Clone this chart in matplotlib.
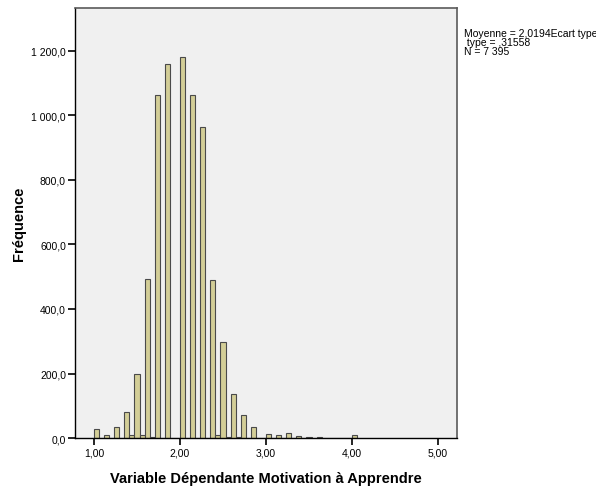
import matplotlib
matplotlib.use("Agg")
import matplotlib.pyplot as plt
from matplotlib.ticker import FixedLocator

# Histogram data: counts per bin, bins start at 1.00 with width 1/17
bin_start = 1.0
bin_width = 1.0 / 17.0
counts = [29, 0, 10, 0, 33, 0, 81, 8, 197, 8, 493, 3, 1063, 0, 1160, 0, 0, 1180,
          0, 1063, 0, 965, 0, 490, 10, 298, 3, 135, 3, 72, 0, 35, 0, 0, 12, 0,
          8, 0, 16, 0, 5, 0, 3, 0, 3, 0, 0, 0, 0, 0, 0, 8]

x_ticks = [1, 2, 3, 4, 5]
x_tick_labels = ["1,00", "2,00", "3,00", "4,00", "5,00"]
y_ticks = [0, 200, 400, 600, 800, 1000, 1200]
y_tick_labels = ["0,0", "200,0", "400,0", "600,0", "800,0", "1 000,0", "1 200,0"]

stats_text = "Moyenne = 2,0194Ecart type\n type = ,31558\nN = 7 395"
x_label = "Variable Dépendante Motivation à Apprendre"
y_label = "Fréquence"

plt.rcParams['font.family'] = ['Liberation Sans', 'DejaVu Sans']

fig = plt.figure(figsize=(5.96, 4.89), dpi=100)
fig.patch.set_facecolor("white")
ax = fig.add_axes([0.1258, 0.1022, 0.641, 0.8794])
ax.set_facecolor("#f0f0f0")

lefts = [bin_start + i * bin_width for i in range(len(counts))]
ax.bar(lefts, counts, width=bin_width, align="edge", color="#d3ce97",
       edgecolor="#4a4a4a", linewidth=0.8, zorder=2)

ax.set_xlim(0.779, 5.221)
ax.set_ylim(0, 1333)

ax.xaxis.set_major_locator(FixedLocator(x_ticks))
ax.set_xticklabels(x_tick_labels)
ax.yaxis.set_major_locator(FixedLocator(y_ticks))
ax.set_yticklabels(y_tick_labels)
ax.tick_params(axis="both", direction="out", length=5, width=1.2, color="black",
               labelsize=7.5, pad=1.5)

for s in ["left", "bottom"]:
    ax.spines[s].set_color("black")
    ax.spines[s].set_linewidth(1.0)
for s in ["top", "right"]:
    ax.spines[s].set_color("#5a5a5a")
    ax.spines[s].set_linewidth(1.2)

ax.set_xlabel(x_label, fontsize=10.5, fontweight="bold", labelpad=10)
ax.set_ylabel(y_label, fontsize=10.5, fontweight="bold", labelpad=4)

fig.text(0.779, 0.94, stats_text, fontsize=7.5, va="top", ha="left",
         linespacing=0.85)

fig.savefig("out.png", dpi=100, facecolor="white")
